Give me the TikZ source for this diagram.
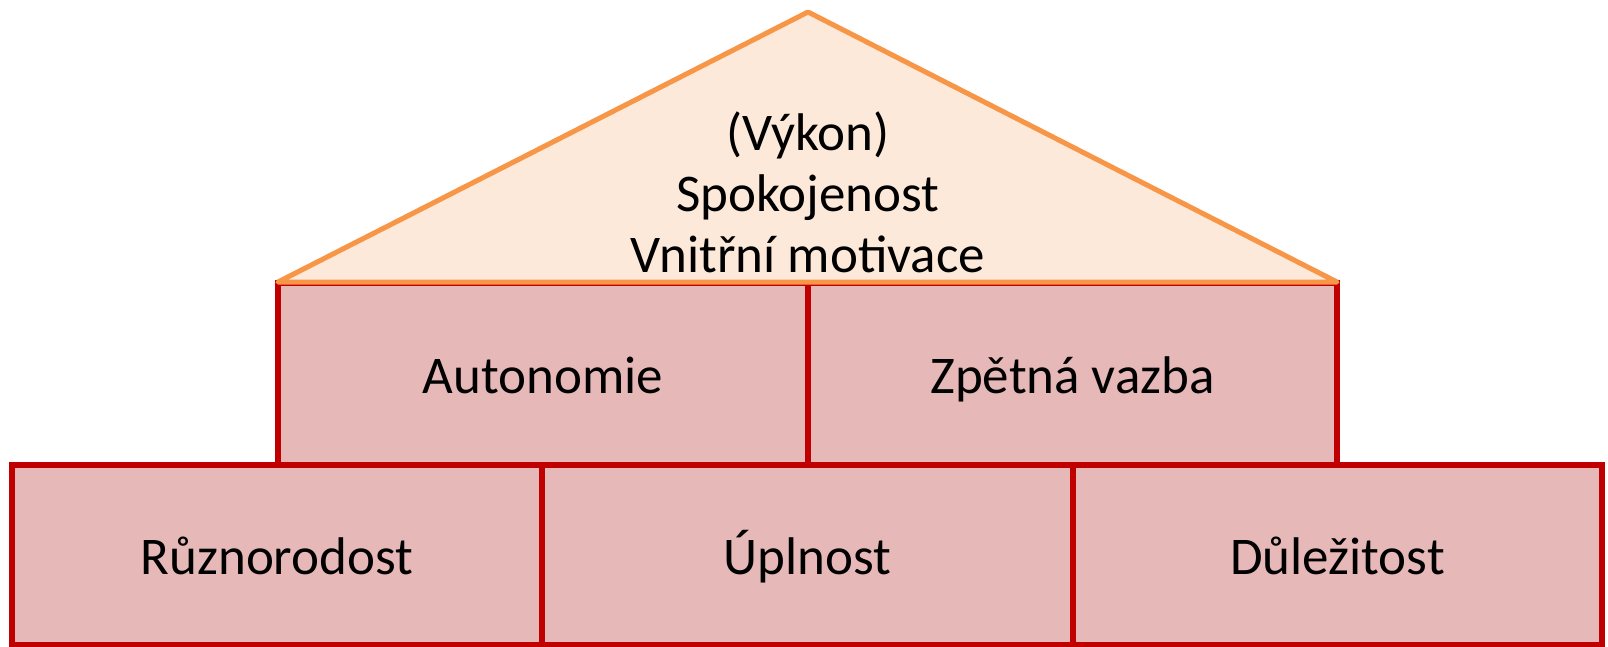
\documentclass[tikz,border=0pt]{standalone}
\usepackage{fontspec}
\setmainfont{Carlito}
\definecolor{boxfill}{HTML}{E6B8B7}
\definecolor{boxline}{HTML}{C00000}
\definecolor{rooffill}{HTML}{FDE9D9}
\definecolor{roofline}{HTML}{F79646}
\begin{document}
\begin{tikzpicture}[x=1pt,y=-1pt,
  block/.style={draw=boxline,fill=boxfill,line width=5.5pt,rectangle,inner sep=0pt,
    text height=46pt,text depth=8pt,
    font=\fontsize{53}{64}\selectfont},
  roof/.style={draw=roofline,fill=rooffill,line width=5pt,line join=round},
  rooftext/.style={align=center,font=\fontsize{53}{61}\selectfont}]
\useasboundingbox[fill=white] (0,0) rectangle (1608,647);
% bottom row
\node[block,minimum width=530pt,minimum height=180pt] (b1) at (277,555) {Různorodost};
\node[block,minimum width=531pt,minimum height=180pt] (b2) at (807.5,555) {Úplnost};
\node[block,minimum width=529pt,minimum height=180pt] (b3) at (1337.5,555) {Důležitost};
% top row
\node[block,minimum width=530pt,minimum height=182pt] (t1) at (543,374) {Autonomie};
\node[block,minimum width=529pt,minimum height=182pt] (t2) at (1072.5,374) {Zpětná vazba};
% roof
\coordinate (rl) at (278,282);
\coordinate (ra) at (808,12);
\coordinate (rr) at (1337,282);
\draw[roof] (rl) -- (ra) -- (rr) -- cycle;
\node[rooftext] (rt) at (808,192) {(Výkon)\\Spokojenost\\Vnitřní motivace};
\end{tikzpicture}
\end{document}
